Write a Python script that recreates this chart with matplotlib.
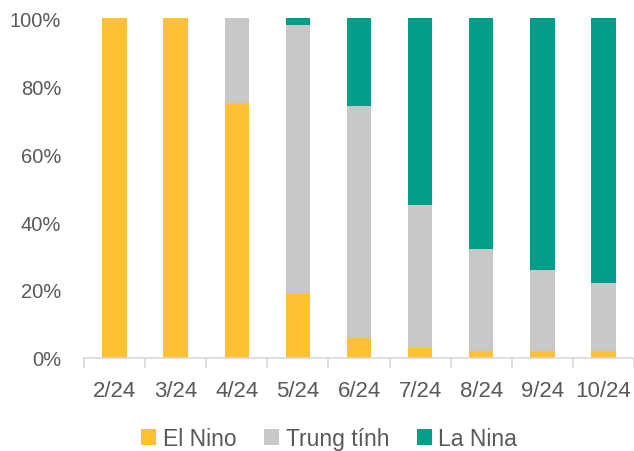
import numpy as np
import matplotlib.pyplot as plt
from matplotlib.ticker import FixedLocator, PercentFormatter

plt.rcParams['font.family'] = ['Liberation Sans', 'DejaVu Sans']

months = ['2/24', '3/24', '4/24', '5/24', '6/24', '7/24', '8/24', '9/24', '10/24']
el_nino = [100, 100, 75, 19, 6, 3, 2, 2, 2]
trung_tinh = [0, 0, 25, 79, 68, 42, 30, 24, 20]
la_nina = [0, 0, 0, 2, 26, 55, 68, 74, 78]

c_el = '#FFC133'
c_tt = '#C8C8C8'
c_la = '#009E87'
txt = '#595959'

fig = plt.figure(figsize=(6.34, 4.52), dpi=100)
ax = fig.add_axes([0.1325, 0.2058, 0.8675, 0.752])

x = np.arange(len(months))
w = 0.4
el = np.array(el_nino)
tt = np.array(trung_tinh)
la = np.array(la_nina)
ax.bar(x, el, w, color=c_el, label='El Nino')
ax.bar(x, tt, w, bottom=el, color=c_tt, label='Trung tính')
ax.bar(x, la, w, bottom=el + tt, color=c_la, label='La Nina')

ax.set_xlim(-0.5, len(months) - 0.5)
ax.set_ylim(0, 100)
ax.set_yticks(range(0, 101, 20))
ax.yaxis.set_major_formatter(PercentFormatter(decimals=0))
ax.set_xticks(x)
ax.set_xticklabels(months)
ax.xaxis.set_minor_locator(FixedLocator(np.arange(-0.5, len(months), 1)))
ax.tick_params(axis='x', which='major', length=0, pad=16, labelsize=16, labelcolor=txt)
ax.tick_params(axis='x', which='minor', length=7, width=1.2, color='#D9D9D9', direction='out')
ax.tick_params(axis='y', length=0, pad=16.5, labelsize=14.5, labelcolor=txt)

for s in ['top', 'right', 'left']:
    ax.spines[s].set_visible(False)
ax.spines['bottom'].set_color('#D9D9D9')
ax.spines['bottom'].set_linewidth(1.2)

fig.legend(loc='center', bbox_to_anchor=(0.519, 0.027), ncol=3, frameon=False,
           fontsize=16.5, labelcolor=txt, handlelength=0.68, handleheight=0.68,
           handletextpad=0.27, columnspacing=1.2, borderaxespad=0, borderpad=0)

fig.savefig('out.png', dpi=100)
